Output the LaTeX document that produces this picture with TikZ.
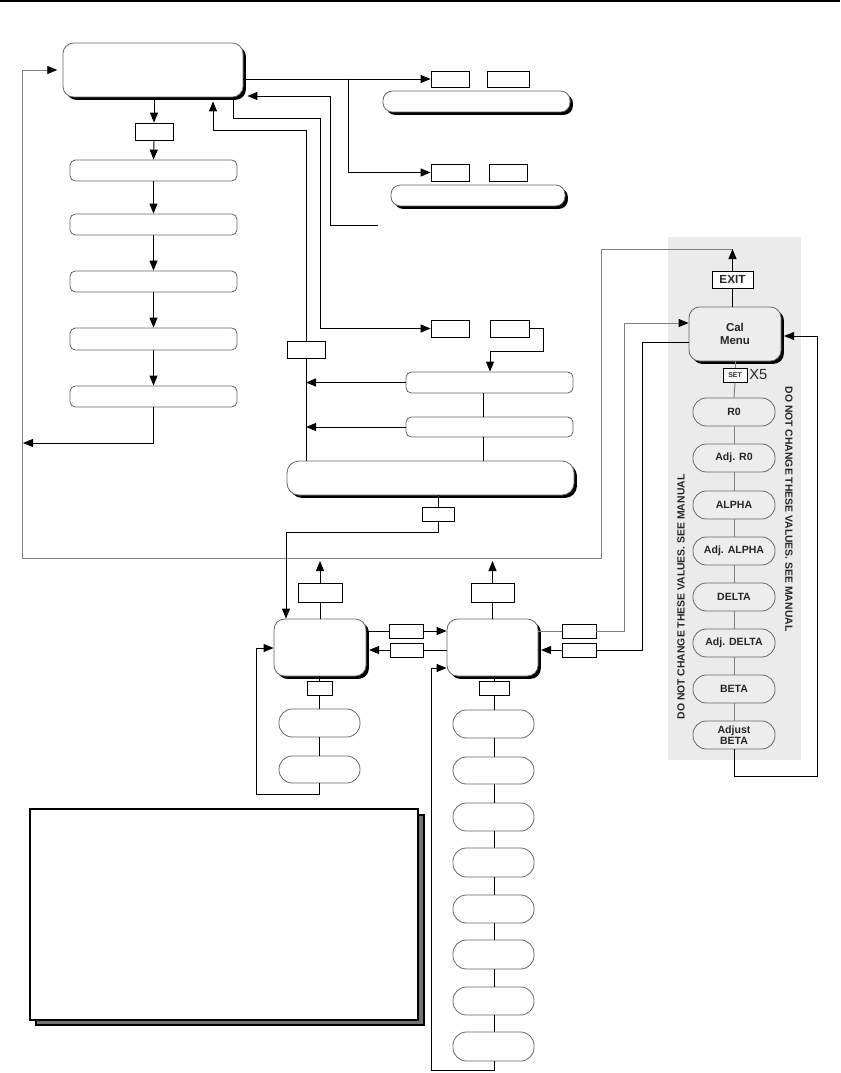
\documentclass[tikz,border=0pt]{standalone}
\usepackage{fontspec}
\setsansfont{Liberation Sans}
\usetikzlibrary{arrows.meta,fit,shadows}
\begin{document}
\begin{tikzpicture}[x=0.75pt,y=-0.75pt,
  ln/.style={line width=0.7pt, draw=black},
  lg/.style={line width=0.7pt, draw=black!50},
  >={Triangle[length=7.5pt,width=6pt,black]},
  sq/.style={draw=black, line width=0.6pt, fill=white, inner sep=0pt},
  rbox/.style={draw=black!60, line width=0.6pt, fill=white, rounded corners=4pt, inner sep=0pt},
  shbox/.style={rbox, rounded corners=8pt, drop shadow={shadow xshift=2.2pt, shadow yshift=-2.2pt, fill=black, opacity=1}},
  pill/.style={draw=black!60, line width=0.6pt, fill=white, rounded corners=10pt, inner sep=0pt},
  gpill/.style={pill, fill=black!7},
  ptxt/.style={font=\sffamily\bfseries\fontsize{7.9}{8.4}\selectfont, text=black!85, align=center, inner sep=0pt},
  warn/.style={font=\sffamily\bfseries\fontsize{7.8}{8.5}\selectfont, text=black!85, inner sep=0pt},
]
\useasboundingbox (0,0) rectangle (840,1073);
\draw[line width=1.4pt] (0,1) -- (840,1);

% gray panel
\node[fill=black!8, inner sep=0pt, fit={(668,237) (801,760)}] (panel) {};

% note box
\node[draw=black, line width=0.8pt, fill=black!55, inner sep=0pt, fit={(36,815) (424,1025)}] (noteshadow) {};
\node[draw=black, line width=0.8pt, fill=white, inner sep=0pt, fit={(30,809) (418,1020)}] (note) {};

% main box and left column
\node[shbox, fit={(63,43) (243,97)}] (M) {};
\node[sq, fit={(135,123) (173,140)}] (S0) {};
\node[rbox, fit={(70,160) (237,181)}] (L1) {};
\node[rbox, fit={(70,214) (237,235)}] (L2) {};
\node[rbox, fit={(70,271) (237,292)}] (L3) {};
\node[rbox, fit={(70,328) (237,350)}] (L4) {};
\node[rbox, fit={(70,386) (237,407)}] (L5) {};

% upper right
\node[sq, fit={(431,71) (469,87)}] (A1) {};
\node[sq, fit={(487,71) (529,87)}] (A2) {};
\node[shbox, rounded corners=7pt, fit={(383,91) (570,112)}] (A) {};
\node[sq, fit={(431,164) (469,181)}] (B1) {};
\node[sq, fit={(489,164) (527,181)}] (B2) {};
\node[shbox, rounded corners=7pt, fit={(391,185) (565,206)}] (B) {};

% middle
\node[sq, fit={(287,341) (325,358)}] (D) {};
\node[sq, fit={(431,320) (469,337)}] (C1) {};
\node[sq, fit={(490,320) (529,337)}] (C2) {};
\node[rbox, fit={(406,372) (573,393)}] (F1) {};
\node[rbox, fit={(406,417) (573,437)}] (F2) {};
\node[shbox, rounded corners=9pt, fit={(287,461) (574,495)}] (E) {};
\node[sq, fit={(422,507) (454,521)}] (G) {};

% H and K
\node[shbox, fit={(274,619) (366,676)}] (H) {};
\node[sq, fit={(298,583) (342,602)}] (HA) {};
\node[sq, fit={(307,681) (332,695)}] (HS) {};
\node[pill, fit={(279,709) (360,737)}] (H1) {};
\node[pill, fit={(279,756) (360,783)}] (H2) {};
\node[sq, fit={(389,624) (423,638)}] (HK1) {};
\node[sq, fit={(390,643) (423,657)}] (HK2) {};

\node[shbox, fit={(447,619) (538,676)}] (K) {};
\node[sq, fit={(471,583) (514,602)}] (KA) {};
\node[sq, fit={(479,681) (509,695)}] (KS) {};
\node[pill, fit={(453,710) (534,738)}] (K1) {};
\node[pill, fit={(453,757) (534,784)}] (K2) {};
\node[pill, fit={(453,803) (534,831)}] (K3) {};
\node[pill, fit={(453,848) (534,877)}] (K4) {};
\node[pill, fit={(453,895) (534,923)}] (K5) {};
\node[pill, fit={(453,940) (534,969)}] (K6) {};
\node[pill, fit={(453,987) (534,1015)}] (K7) {};
\node[pill, fit={(453,1032) (534,1061)}] (K8) {};
\node[sq, fit={(562,624) (596,638)}] (KR1) {};
\node[sq, fit={(562,643) (596,657)}] (KR2) {};

% calibration menu
\node[shbox, fill=black!7, fit={(689,307) (781,361)}] (cal) {};
\node[font=\sffamily\bfseries\fontsize{8.6}{10}\selectfont, align=center, text=black!85, inner sep=0pt] (calT) at (cal.center) {Cal\\Menu};
\node[sq, fit={(712,271) (753,288)}] (EXIT) {};
\node[font=\sffamily\bfseries\fontsize{8.8}{9}\selectfont, text=black!85, inner sep=0pt] (EXITT) at (EXIT.center) {EXIT};
\node[sq, fit={(723,368) (747,382)}] (SET) {};
\node[font=\sffamily\bfseries\fontsize{5.2}{5.2}\selectfont, text=black!85, inner sep=0pt] (SETT) at (SET.center) {SET};
\node[font=\sffamily\fontsize{11}{11}\selectfont, anchor=west, inner sep=0pt, text=black!85] (x5) at (749,375) {X5};
\node[gpill, fit={(693,398) (775,426)}] (R0) {};
\node[gpill, fit={(693,444) (775,472)}] (AR0) {};
\node[gpill, fit={(693,491) (775,519)}] (AL) {};
\node[gpill, fit={(693,537) (775,565)}] (AAL) {};
\node[gpill, fit={(693,583) (775,611)}] (DE) {};
\node[gpill, fit={(693,629) (775,657)}] (ADE) {};
\node[gpill, fit={(693,675) (775,703)}] (BE) {};
\node[gpill, fit={(693,721) (775,749)}] (ABE) {};
\node[ptxt] (R0T) at (R0.center) {R0};
\node[ptxt] (AR0T) at (AR0.center) {Adj. R0};
\node[ptxt] (ALT) at (AL.center) {ALPHA};
\node[ptxt] (AALT) at (AAL.center) {Adj. ALPHA};
\node[ptxt] (DET) at (DE.center) {DELTA};
\node[ptxt] (ADET) at (ADE.center) {Adj. DELTA};
\node[ptxt] (BET) at (BE.center) {BETA};
\node[ptxt] (ABET) at (ABE.center) {Adjust\\BETA};
\node[warn, rotate=-90] (w1) at (789,509) {DO NOT CHANGE THESE VALUES. SEE MANUAL};
\node[warn, rotate=90] (w2) at (681,597) {DO NOT CHANGE THESE VALUES. SEE MANUAL};

% free ends
\coordinate (exitTop) at (732.5,249);
\coordinate (d1) at (378,225);
\coordinate (hup) at (320,561);
\coordinate (kup) at (492.5,561);
\coordinate (lret) at (23,443);
\coordinate (j1) at (348,79);

% left column connectors
\draw[ln,->] (S0.north |- M.south) -- (S0.north);
\draw[ln,->] (S0.south) -- (L1.north);
\draw[ln,->] (L1.south) -- (L2.north);
\draw[ln,->] (L2.south) -- (L3.north);
\draw[ln,->] (L3.south) -- (L4.north);
\draw[ln,->] (L4.south) -- (L5.north);
\draw[ln,->] (L5.south) -- (L5.south |- lret) -- (lret);

% return bus
\draw[lg,->,shorten >=4pt] (exitTop) -- (601,249) -- (601,558) -- (22,558) -- (22,70) -- (M.west);

% upper right
\draw[ln] (M.east |- j1) -- (j1);
\draw[ln,->] (j1) -- (A1.west);
\draw[ln,->] (j1) -- (j1 |- B1.west) -- (B1.west);
\draw[ln,->,shorten >=3pt] (d1) -- (330,225) -- (330,96) -- (M.east |- 0,96);

% middle
\draw[ln] (D.south |- E.north) -- (D.south);
\draw[ln,->,shorten >=3pt] (D.north) -- (D.north |- 0,130) -- (213,130) -- (M.south -| 213,0);
\draw[ln,->] (M.south -| 233,0) -- (233,118) -- (320,118) -- (C1.west -| 320,0) -- (C1.west);
\draw[ln,->] (C2.east) -- (C2.east -| 543,0) -- (543,351) -- (490,351) -- (F1.north -| 490,0);
\draw[ln,->] (F1.west) -- (F1.west -| D.south);
\draw[ln,->] (F2.west) -- (F2.west -| D.south);
\draw[ln] (F1.south -| 483,0) -- (F2.north -| 483,0);
\draw[ln] (F2.south -| 483,0) -- (E.north -| 483,0);
\draw[ln] (E.south -| G.north) -- (G.north);
\draw[ln,->] (G.south) -- (G.south |- 0,532) -- (286,532) -- (H.north -| 286,0);

% H
\draw[ln] (H.north -| HA.south) -- (HA.south);
\draw[ln,->] (HA.north) -- (hup);
\draw[ln] (H.south -| HS.north) -- (HS.north);
\draw[ln] (HS.south) -- (H1.north -| HS.south);
\draw[ln] (H1.south -| HS.south) -- (H2.north -| HS.south);
\draw[ln,->] (H2.south -| HS.south) -- (HS.south |- 0,794) -- (256,794) -- (256,648) -- (H.west |- 0,648);
\draw[ln] (H.east |- HK1.west) -- (HK1.west);
\draw[ln,->] (HK1.east) -- (K.west |- HK1.east);
\draw[ln] (K.west |- HK2.east) -- (HK2.east);
\draw[ln,->,shorten >=2pt] (HK2.west) -- (H.east |- HK2.west);

% K
\draw[ln] (K.north -| KA.south) -- (KA.south);
\draw[ln,->] (KA.north) -- (kup);
\draw[ln] (K.south -| KS.north) -- (KS.north);
\draw[ln] (KS.south) -- (K1.north -| KS.south);
\foreach \a/\b in {K1/K2,K2/K3,K3/K4,K4/K5,K5/K6,K6/K7,K7/K8}
  \draw[ln] (\a.south -| KS.south) -- (\b.north -| KS.south);
\draw[ln,->] (K8.south -| KS.south) -- (KS.south |- 0,1070) -- (431,1070) -- (431,668) -- (K.west |- 0,668);
\draw[lg] (K.east |- KR1.west) -- (KR1.west);
\draw[lg,->] (KR1.east) -- (KR1.east -| 624,0) -- (624,323) -- (cal.west |- 0,323);
\draw[ln] (cal.west |- 0,342) -- (642,342) -- (642,650) -- (KR2.east);
\draw[ln,->,shorten >=2pt] (KR2.west) -- (K.east |- KR2.west);

% cal menu
\draw[ln] (cal.north -| EXIT.south) -- (EXIT.south);
\draw[ln,->] (EXIT.north) -- (exitTop);
\draw[lg] (cal.south) -- (SET.north);
\draw[lg] (SET.south) -- (R0.north);
\foreach \a/\b in {R0/AR0,AR0/AL,AL/AAL,AAL/DE,DE/ADE,ADE/BE,BE/ABE}
  \draw[lg] (\a.south) -- (\b.north);
\draw[ln,->,shorten >=2pt] (ABE.south) -- (ABE.south |- 0,776) -- (817,776) -- (817,336) -- (cal.east |- 0,336);
\end{tikzpicture}
\end{document}
